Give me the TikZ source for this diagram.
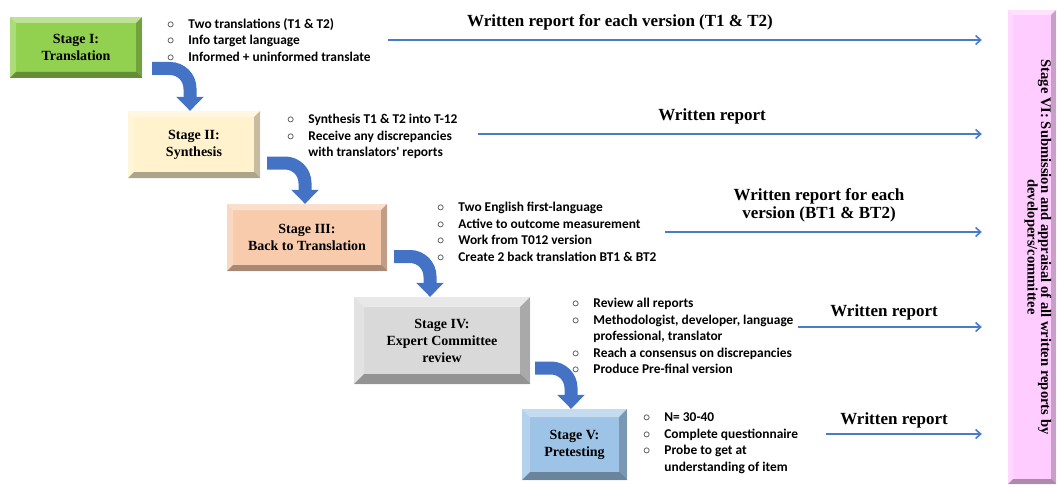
\documentclass[tikz,border=0pt]{standalone}
\usepackage{fontspec}
\setmainfont{Liberation Serif}
\newfontfamily\calibri{Carlito}
\usetikzlibrary{arrows.meta}
\definecolor{stgreen}{HTML}{92D050}
\definecolor{stcream}{HTML}{FFF2CC}
\definecolor{stpeach}{HTML}{F8CBAD}
\definecolor{stgrey}{HTML}{D9D9D9}
\definecolor{stblue}{HTML}{9DC3E6}
\definecolor{stpink}{HTML}{FFCCFF}
\definecolor{arrowblue}{HTML}{4472C4}
\definecolor{lineblue}{HTML}{4A7ACB}

\begin{document}
\begin{tikzpicture}[x=1pt, y=-1pt,
  bevel/.style={path picture={
    \fill[white, opacity=0.4] (path picture bounding box.north west) -- (path picture bounding box.north east) -- ++(-#1,-#1) -- ([shift={(#1,-#1)}]path picture bounding box.north west) -- cycle;
    \fill[white, opacity=0.25] (path picture bounding box.north west) -- (path picture bounding box.south west) -- ++(#1,#1) -- ([shift={(#1,-#1)}]path picture bounding box.north west) -- cycle;
    \fill[black, opacity=0.22] (path picture bounding box.north east) -- (path picture bounding box.south east) -- ++(-#1,#1) -- ([shift={(-#1,-#1)}]path picture bounding box.north east) -- cycle;
    \fill[black, opacity=0.32] (path picture bounding box.south west) -- (path picture bounding box.south east) -- ++(-#1,#1) -- ([shift={(#1,#1)}]path picture bounding box.south west) -- cycle;
  }},
  stage/.style={inner sep=0pt, align=center, font=\bfseries\fontsize{14}{17}\selectfont},
  items/.style={anchor=north west, inner sep=0pt, font=\calibri\bfseries\fontsize{13.4}{16.5}\selectfont},
  bigarrow/.style={draw=arrowblue, line width=13pt, rounded corners=20pt, -{Triangle[width=27pt,length=14pt]}},
  report/.style={draw=lineblue, line width=1.6pt, shorten >=26pt, -{Straight Barb[length=5pt,width=9pt]}},
  reportlabel/.style={inner sep=0pt, align=center, font=\bfseries\fontsize{17}{18}\selectfont}]
\useasboundingbox (0,0) rectangle (1058,487);

\node[stage, fill=stgreen, bevel=6pt, minimum width=132pt, minimum height=61pt] (I) at (76,47.5) {Stage I:\\Translation};
\node[stage, fill=stcream, bevel=6pt, minimum width=132pt, minimum height=67pt] (II) at (194,144.5) {Stage II:\\Synthesis};
\node[stage, fill=stpeach, bevel=6pt, minimum width=160pt, minimum height=67pt] (III) at (307,237.5) {Stage III:\\Back to Translation};
\node[stage, fill=stgrey, bevel=10pt, minimum width=176pt, minimum height=87pt] (IV) at (442,340.5) {Stage IV:\\Expert Committee\\review};
\node[stage, fill=stblue, bevel=8pt, minimum width=105pt, minimum height=71pt] (V) at (574.5,444.5) {Stage V:\\Pretesting};
\node[fill=stpink, bevel=5pt, inner sep=0pt, minimum width=48pt, minimum height=474pt] (VI) at (1032,247) {};
\node[rotate=-90, align=center, inner sep=0pt, font=\bfseries\fontsize{14.6}{13.5}\selectfont] (VItext) at ([xshift=6pt]VI.center) {Stage VI: Submission and appraisal of all written reports by\\developers/committee};

\node[items] (L1) at (167,16.5) {\begin{tabular}{@{}l@{\hspace{14pt}}l@{}}
$\circ$ & Two translations (T1 \& T2)\\
$\circ$ & Info target language\\
$\circ$ & Informed + uninformed translate
\end{tabular}};
\node[items] (L2) at (287,112) {\begin{tabular}{@{}l@{\hspace{14pt}}l@{}}
$\circ$ & Synthesis T1 \& T2 into T-12\\
$\circ$ & Receive any discrepancies\\
 & with translators' reports
\end{tabular}};
\node[items] (L3) at (437,200) {\begin{tabular}{@{}l@{\hspace{14pt}}l@{}}
$\circ$ & Two English first-language\\
$\circ$ & Active to outcome measurement\\
$\circ$ & Work from T012 version\\
$\circ$ & Create 2 back translation BT1 \& BT2
\end{tabular}};
\node[items] (L4) at (572,296) {\begin{tabular}{@{}l@{\hspace{14pt}}l@{}}
$\circ$ & Review all reports\\
$\circ$ & Methodologist, developer, language\\
 & professional, translator\\
$\circ$ & Reach a consensus on discrepancies\\
$\circ$ & Produce Pre-final version
\end{tabular}};
\node[items] (L5) at (643,410) {\begin{tabular}{@{}l@{\hspace{14pt}}l@{}}
$\circ$ & N= 30-40\\
$\circ$ & Complete questionnaire\\
$\circ$ & Probe to get at\\
 & understanding of item
\end{tabular}};

\path[bigarrow] ([xshift=10pt,yshift=-21pt]I.east) -| ([xshift=-4pt]II.north);
\path[bigarrow] ([xshift=7pt,yshift=-18.5pt]II.east) -| ([xshift=-2pt]III.north);
\path[bigarrow] ([xshift=7pt,yshift=-19pt]III.east) -| ([xshift=-12pt]IV.north);
\path[bigarrow] ([xshift=5pt,yshift=-27.5pt]IV.east) -| ([xshift=-3.5pt]V.north);

\coordinate (r1) at (388,40);
\coordinate (r2) at (478,134);
\coordinate (r3) at (665,232);
\coordinate (r4) at (798,327);
\coordinate (r5) at (826,434);
\node[reportlabel] (W1) at (620,22) {Written report for each version (T1 \& T2)};
\node[reportlabel] (W2) at (712,116) {Written report};
\node[reportlabel] (W3) at (819,205) {Written report for each\\version (BT1 \& BT2)};
\node[reportlabel] (W4) at (884,312) {Written report};
\node[reportlabel] (W5) at (894,420) {Written report};
\path[report] (r1) -- (r1 -| VI.west);
\path[report] (r2) -- (r2 -| VI.west);
\path[report] (r3) -- (r3 -| VI.west);
\path[report] (r4) -- (r4 -| VI.west);
\path[report] (r5) -- (r5 -| VI.west);
\end{tikzpicture}
\end{document}
